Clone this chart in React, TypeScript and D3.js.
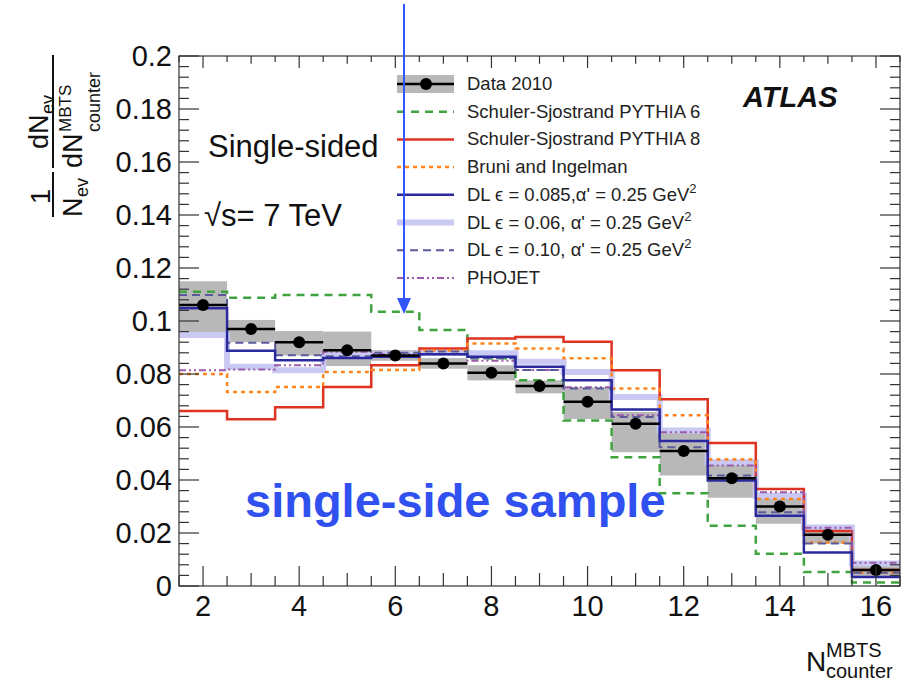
import React from "react";
import * as d3 from "d3";

const bins = [2, 3, 4, 5, 6, 7, 8, 9, 10, 11, 12, 13, 14, 15, 16];
const data2010 = [0.106, 0.097, 0.092, 0.089, 0.087, 0.084, 0.0805, 0.0755, 0.0695, 0.0612, 0.0509, 0.0407, 0.030, 0.0193, 0.006];
const bandLo = [0.095, 0.092, 0.087, 0.083, 0.085, 0.082, 0.0776, 0.0727, 0.063, 0.0505, 0.0417, 0.0333, 0.0235, 0.016, 0.0038];
const bandHi = [0.115, 0.1004, 0.0962, 0.096, 0.089, 0.086, 0.0833, 0.0776, 0.075, 0.0657, 0.0587, 0.047, 0.0352, 0.022, 0.0087];
const pythia6 = [0.111, 0.1088, 0.1098, 0.1098, 0.1035, 0.0966, 0.0859, 0.0776, 0.0625, 0.0486, 0.035, 0.0227, 0.0122, 0.0053, 0.0013];
const pythia8 = [0.066, 0.0629, 0.0675, 0.0751, 0.0833, 0.0896, 0.0934, 0.094, 0.0922, 0.0814, 0.0705, 0.054, 0.0366, 0.0208, 0.006];
const bruni = [0.080, 0.0732, 0.0751, 0.0808, 0.0815, 0.0889, 0.0915, 0.0896, 0.0859, 0.0745, 0.0644, 0.0477, 0.0328, 0.0164, 0.005];
const dl085 = [0.1048, 0.0888, 0.0852, 0.086, 0.0865, 0.0875, 0.0865, 0.0827, 0.0776, 0.0666, 0.0547, 0.0398, 0.0265, 0.0126, 0.0034];
const dl06 = [0.0947, 0.0827, 0.0814, 0.087, 0.0875, 0.088, 0.0878, 0.0846, 0.0808, 0.0713, 0.0587, 0.0467, 0.034, 0.0221, 0.0085];
const dl10 = [0.1098, 0.0918, 0.0871, 0.0867, 0.088, 0.0885, 0.0859, 0.0815, 0.0745, 0.0638, 0.0524, 0.0417, 0.0278, 0.016, 0.005];
const phojet = [0.0814, 0.0817, 0.0833, 0.0884, 0.0875, 0.0875, 0.085, 0.0815, 0.075, 0.0644, 0.058, 0.0455, 0.0354, 0.022, 0.0088];

const yTickLabels = ["0", "0.02", "0.04", "0.06", "0.08", "0.1", "0.12", "0.14", "0.16", "0.18", "0.2"];
const xTickLabels = ["2", "4", "6", "8", "10", "12", "14", "16"];

const models = [
  { name: "DL06", values: dl06, color: "#c9c9f4", width: 6, dash: "" },
  { name: "Pythia6", values: pythia6, color: "#3fa33f", width: 2.5, dash: "8,6" },
  { name: "Pythia8", values: pythia8, color: "#dd3322", width: 2.5, dash: "" },
  { name: "Bruni", values: bruni, color: "#ff8420", width: 2.5, dash: "4,4" },
  { name: "PHOJET", values: phojet, color: "#9a5aa8", width: 2, dash: "7,3,2,3,2,3" },
  { name: "DL10", values: dl10, color: "#5a5a9a", width: 2, dash: "8,5" },
  { name: "DL085", values: dl085, color: "#2a2a9e", width: 2.5, dash: "" },
];

const legendItems = [
  { label: "Data 2010", kind: "data" },
  { label: "Schuler-Sjostrand PYTHIA 6", kind: "Pythia6" },
  { label: "Schuler-Sjostrand PYTHIA 8", kind: "Pythia8" },
  { label: "Bruni and Ingelman", kind: "Bruni" },
  { label: "DL ϵ = 0.085,α' = 0.25 GeV", sup: "2", kind: "DL085" },
  { label: "DL ϵ = 0.06, α' = 0.25 GeV", sup: "2", kind: "DL06" },
  { label: "DL ϵ = 0.10, α' = 0.25 GeV", sup: "2", kind: "DL10" },
  { label: "PHOJET", kind: "PHOJET" },
];

const X0 = 179, X1 = 900, Y0 = 56, Y1 = 586;

export default function App() {
  const x = d3.scaleLinear().domain([1.5, 16.5]).range([X0, X1]);
  const y = d3.scaleLinear().domain([0, 0.2]).range([Y1, Y0]);
  const font = "'Liberation Sans', Arial, sans-serif";

  const stepPath = (vals: number[]) => {
    const pts: [number, number][] = bins.map((b, i) => [b - 0.5, vals[i]]);
    pts.push([bins[bins.length - 1] + 0.5, vals[vals.length - 1]]);
    return d3.line<[number, number]>().x((d) => x(d[0])).y((d) => y(d[1])).curve(d3.curveStepAfter)(pts) || "";
  };

  const yMajor = d3.range(0, 0.2001, 0.02);
  const yMinor = d3.range(0, 0.2001, 0.004);
  const xHalf = d3.range(1.5, 16.51, 0.5);

  const modelByName: Record<string, any> = {};
  models.forEach((m) => (modelByName[m.name] = m));

  const legY0 = 84, legStep = 27.7;

  return (
    <svg width={908} height={685} style={{ display: "block", position: "absolute", left: 0, top: 0 }} fontFamily={font}>
      <rect x={0} y={0} width={908} height={685} fill="#fff" />
      {/* data band */}
      {bins.map((b, i) => (
        <rect key={"band" + b} x={x(b - 0.5)} width={x(b + 0.5) - x(b - 0.5)} y={y(bandHi[i])} height={y(bandLo[i]) - y(bandHi[i])} fill="#b8b8b8" />
      ))}
      {/* models */}
      {models.map((m) => (
        <path key={m.name} d={stepPath(m.values)} fill="none" stroke={m.color} strokeWidth={m.width} strokeDasharray={m.dash} />
      ))}
      {/* data points */}
      {bins.map((b, i) => (
        <g key={"pt" + b}>
          <line x1={x(b - 0.5)} x2={x(b + 0.5)} y1={y(data2010[i])} y2={y(data2010[i])} stroke="#000" strokeWidth={2.5} />
          <circle cx={x(b)} cy={y(data2010[i])} r={6} fill="#000" />
        </g>
      ))}
      {/* frame */}
      <rect x={X0} y={Y0} width={X1 - X0} height={Y1 - Y0} fill="none" stroke="#333" strokeWidth={1.2} />
      {/* y ticks */}
      {yMinor.map((v, i) => {
        const major = i % 5 === 0;
        const L = major ? 20 : 10;
        return (
          <g key={"yt" + i} stroke="#333" strokeWidth={1.2}>
            <line x1={X0} x2={X0 + L} y1={y(v)} y2={y(v)} />
            <line x1={X1} x2={X1 - L} y1={y(v)} y2={y(v)} />
          </g>
        );
      })}
      {/* x ticks */}
      {xHalf.map((v, i) => {
        const major = Math.abs(v % 2) < 1e-6;
        const mid = !major && Math.abs(v % 1) < 1e-6;
        const L = major ? 20 : mid ? 13 : 10;
        return (
          <g key={"xt" + i} stroke="#333" strokeWidth={1.2}>
            <line x1={x(v)} x2={x(v)} y1={Y1} y2={Y1 - L} />
            <line x1={x(v)} x2={x(v)} y1={Y0} y2={Y0 + L * 0.6} />
          </g>
        );
      })}
      {yMajor.map((v, i) => (
        <text key={"yl" + i} x={172} y={y(v) + 10} textAnchor="end" fontSize={29} fill="#111">
          {yTickLabels[i]}
        </text>
      ))}
      {xTickLabels.map((t) => (
        <text key={"xl" + t} x={x(+t)} y={616} textAnchor="middle" fontSize={29} fill="#111">
          {t}
        </text>
      ))}
      {/* x title */}
      <text x={806} y={671} fontSize={28} fill="#111">N</text>
      <text x={826} y={657} fontSize={20} fill="#111">MBTS</text>
      <text x={826} y={678} fontSize={20} fill="#111">counter</text>
      {/* y title (rotated) */}
      <g transform="translate(0,300) rotate(-90)" fill="#111">
        <text x={96} y={50} fontSize={27}>1</text>
        <line x1={83} x2={128} y1={53} y2={53} stroke="#111" strokeWidth={2} />
        <text x={83} y={82} fontSize={27}>N</text>
        <text x={103} y={88} fontSize={18}>ev</text>
        <text x={151} y={48} fontSize={27}>dN</text>
        <text x={186} y={54} fontSize={18}>ev</text>
        <line x1={132} x2={245} y1={53} y2={53} stroke="#111" strokeWidth={2} />
        <text x={132} y={82} fontSize={27}>dN</text>
        <text x={168} y={71} fontSize={17}>MBTS</text>
        <text x={168} y={100} fontSize={18}>counter</text>
      </g>
      {/* annotations */}
      <text x={208} y={157} fontSize={31} fill="#111">Single-sided</text>
      <text x={204} y={226} fontSize={31} fill="#111">√s= 7 TeV</text>
      <text x={743} y={107} fontSize={29} fontWeight="bold" fontStyle="italic" fill="#111">ATLAS</text>
      <text x={245} y={517} fontSize={47} fontWeight="bold" fill="#3050f0">single-side sample</text>
      {/* legend */}
      {legendItems.map((it, i) => {
        const cy = legY0 + i * legStep;
        let sym: any;
        if (it.kind === "data") {
          sym = (
            <g>
              <rect x={397} y={cy - 9} width={57} height={18} fill="#b8b8b8" />
              <line x1={397} x2={454} y1={cy} y2={cy} stroke="#000" strokeWidth={2.5} />
              <circle cx={426} cy={cy} r={6} fill="#000" />
            </g>
          );
        } else {
          const m = modelByName[it.kind];
          sym = <line x1={397} x2={454} y1={cy} y2={cy} stroke={m.color} strokeWidth={m.width} strokeDasharray={m.dash} />;
        }
        return (
          <g key={"lg" + i}>
            {sym}
            <text x={467} y={cy + 6} fontSize={18.5} fill="#222">
              {it.label}
              {it.sup ? <tspan dy={-8} fontSize={13}>{it.sup}</tspan> : null}
            </text>
          </g>
        );
      })}
      {/* arrow */}
      <line x1={404} x2={404} y1={4} y2={300} stroke="#3355ff" strokeWidth={2} />
      <path d="M397,298 L411,298 L404,314 Z" fill="#3355ff" />
    </svg>
  );
}
